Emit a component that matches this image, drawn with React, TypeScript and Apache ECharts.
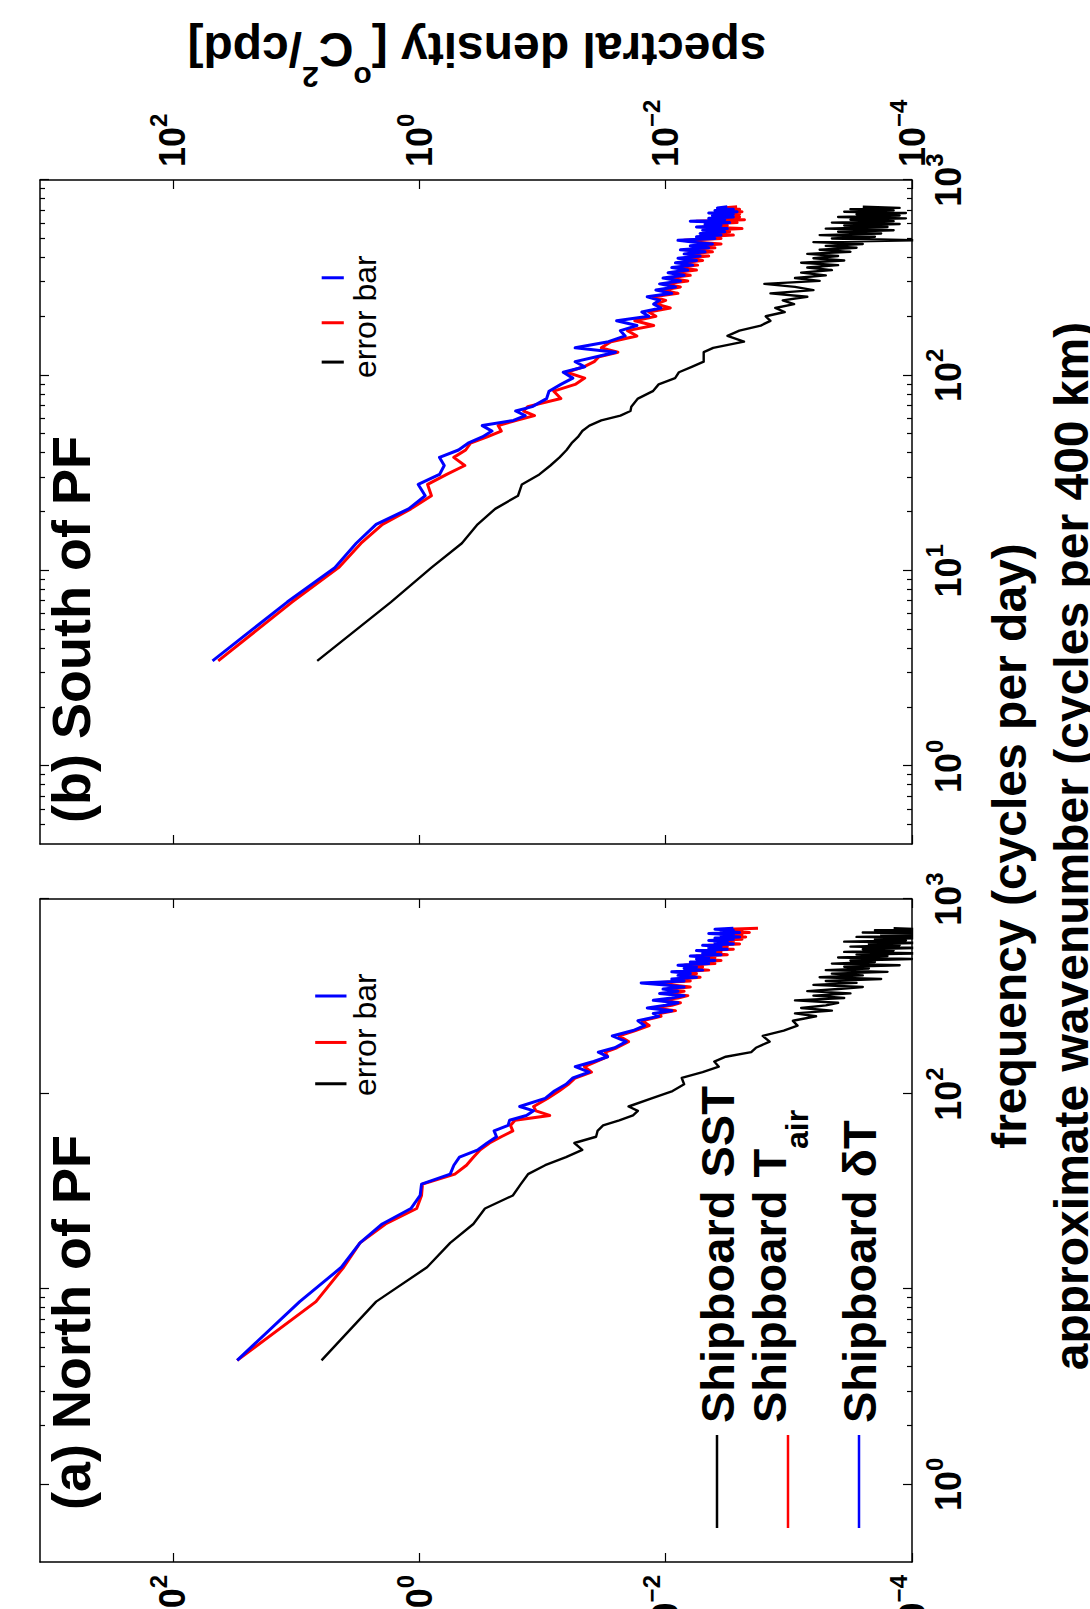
import React, { useEffect, useRef } from 'react';
import * as echarts from 'echarts';

// Landscape canvas (the figure is rotated 90 degrees on the page)
const W = 1609;
const H = 1090;
const FONT = "'Liberation Sans', Arial, Helvetica, sans-serif";

// ---- axis ranges / ticks ----
const X_MIN = 0.4;
const X_MAX = 1000;
const Y_MIN = 1e-4;
const Y_MAX = 1200;
const X_MAJOR = [1, 10, 100, 1000];
const X_MINOR_A = [2, 3, 4, 5, 6, 7, 8, 9];
const X_MINOR_B = [0.5, 0.6, 0.7, 0.8, 0.9, 2, 3, 4, 5, 6, 7, 8, 9, 20, 30, 40, 50, 60, 70, 80, 90, 200, 300, 400, 500, 600, 700, 800, 900];
const X_LABELS_A = [1, 100, 1000];
const X_LABELS_B = [1, 10, 100, 1000];
const Y_TICKS = [1e-4, 1e-2, 1, 100];

// ---- panel (a) North of PF ----
const FREQ_A = [4.32, 8.64, 12.96, 17.28, 21.6, 25.92, 30.24, 34.56, 38.88, 43.2, 47.52, 51.84, 56.16, 60.48, 64.8, 69.12, 73.44, 77.76, 82.08, 86.4,
  95.04, 103.7, 112.3, 121.0, 129.6, 138.2, 146.9, 155.5, 164.2, 172.8,
  185.8, 198.7, 211.7, 224.6, 237.6, 250.6,
  259.2, 267.8, 276.5, 285.1, 293.8, 302.4, 311.0, 319.7, 328.3, 337.0,
  345.6, 354.2, 362.9, 371.5, 380.2, 388.8, 397.4, 406.1, 414.7, 423.4,
  432.0, 440.6, 449.3, 457.9, 466.6, 475.2, 483.8, 492.5, 501.1, 509.8,
  518.4, 527.0, 535.7, 544.3, 553.0, 561.6, 570.2, 578.9, 587.5, 596.2,
  604.8, 613.4, 622.1, 630.7, 639.4, 648.0, 656.6, 665.3, 673.9, 682.6,
  691.2, 699.8, 708.5];
const SST_A = [6.22, 2.24, 0.865, 0.561, 0.364, 0.293, 0.174, 0.150, 0.131, 0.0951, 0.0644, 0.0475, 0.0551, 0.0367, 0.0357, 0.0322, 0.0238, 0.0184, 0.0168, 0.0200,
  0.0130, 0.00879, 0.00708, 0.00740, 0.00501, 0.00370, 0.00403, 0.00325, 0.00202, 0.00185,
  0.00143, 0.00163, 0.00110, 0.000849, 0.000927, 0.000601,
  8.91e-4, 4.47e-4, 7.94e-4, 5.01e-4, 3.98e-4, 8.91e-4, 3.55e-4, 6.31e-4, 3.16e-4, 7.08e-4,
  3.98e-4, 2.51e-4, 6.31e-4, 2.82e-4, 5.01e-4, 1.78e-4, 5.62e-4, 2.51e-4, 4.47e-4, 1.58e-4,
  5.01e-4, 2.24e-4, 3.55e-4, 1.26e-4, 4.47e-4, 2.00e-4, 3.16e-4, 1.00e-4, 3.98e-4, 1.58e-4,
  2.82e-4, 7.94e-5, 3.55e-4, 1.41e-4, 2.51e-4, 7.94e-5, 3.16e-4, 1.26e-4, 2.24e-4, 7.08e-5,
  3.55e-4, 1.12e-4, 2.00e-4, 7.94e-5, 2.82e-4, 8.91e-5, 1.78e-4, 7.08e-5, 2.51e-4, 8.91e-5,
  2.00e-4, 7.94e-5, 1.41e-4];
const TAIR_A = [30.1, 6.90, 4.11, 3.03, 1.88, 1.05, 0.959, 0.942, 0.514, 0.414, 0.364, 0.320, 0.269, 0.216, 0.174, 0.182, 0.167, 0.0873, 0.113, 0.118,
  0.0910, 0.0733, 0.0617, 0.0542, 0.0400, 0.0456, 0.0367, 0.0296, 0.0309, 0.0249,
  0.0200, 0.0238, 0.0176, 0.0136, 0.0155, 0.0109,
  0.0112, 0.00832, 0.0126, 0.00891, 0.00759, 0.0112, 0.00794, 0.00661, 0.0100, 0.00708,
  0.00955, 0.00631, 0.00891, 0.0132, 0.00631, 0.00794, 0.00525, 0.00759, 0.00562, 0.00794,
  0.00447, 0.00661, 0.00501, 0.00708, 0.00398, 0.00562, 0.00355, 0.00525, 0.00398, 0.00562,
  0.00316, 0.00447, 0.00355, 0.00501, 0.00282, 0.00398, 0.00316, 0.00447, 0.00251, 0.00355,
  0.00282, 0.00398, 0.00240, 0.00355, 0.00224, 0.00316, 0.00240, 0.00380, 0.00209, 0.00302,
  0.00240, 0.00316, 0.00178];
const DT_A = [30.1, 9.35, 4.29, 3.03, 2.00, 1.17, 0.984, 0.959, 0.561, 0.524, 0.472, 0.334, 0.281, 0.236, 0.247, 0.190, 0.185, 0.135, 0.118, 0.153,
  0.0951, 0.0800, 0.0644, 0.0566, 0.0418, 0.0542, 0.0384, 0.0296, 0.0352, 0.0259,
  0.0209, 0.0271, 0.0184, 0.0148, 0.0168, 0.0114,
  0.0126, 0.00891, 0.0141, 0.0100, 0.00794, 0.0126, 0.00891, 0.00708, 0.0112, 0.00794,
  0.0105, 0.00708, 0.0100, 0.0158, 0.00708, 0.00891, 0.00562, 0.00794, 0.00631, 0.00891,
  0.00501, 0.00708, 0.00562, 0.00794, 0.00447, 0.00631, 0.00398, 0.00562, 0.00447, 0.00631,
  0.00355, 0.00501, 0.00398, 0.00562, 0.00316, 0.00447, 0.00355, 0.00501, 0.00282, 0.00398,
  0.00316, 0.00447, 0.00282, 0.00398, 0.00251, 0.00355, 0.00282, 0.00447, 0.00251, 0.00355,
  0.00282, 0.00398, 0.00282];
const ERR_F_A = [113, 184, 318];
const ERR_LO_A = 3.9;
const ERR_HI_A = 7.0;

// ---- panel (b) South of PF ----
const FREQ_B = [3.46, 6.92, 10.38, 13.84, 17.3, 20.76, 24.22, 27.68, 31.14, 34.6, 38.06, 41.52, 44.98, 48.44, 51.9, 55.36, 58.82, 62.28, 65.74, 69.2,
  76.12, 83.04, 89.96, 96.88, 103.8, 110.7, 117.6, 124.6, 131.5, 138.4,
  148.8, 159.2, 169.5, 179.9, 190.3, 200.7, 211.1, 221.4, 231.8,
  242.2, 252.6, 263.0, 273.3, 283.7, 294.1, 304.5, 314.9, 325.2, 335.6,
  346.0, 356.4, 366.8, 377.1, 387.5, 397.9, 408.3, 418.7, 429.0, 439.4,
  449.8, 460.2, 470.6, 480.9, 491.3, 501.7, 512.1, 522.5, 532.8, 543.2,
  553.6, 564.0, 574.4, 584.7, 595.1, 605.5, 615.9, 626.3, 636.6, 647.0,
  657.4, 667.8, 678.2, 688.5, 698.9, 709.3, 719.7, 730.1];
const SST_B = [6.74, 1.70, 0.797, 0.451, 0.336, 0.242, 0.158, 0.147, 0.106, 0.0862, 0.0727, 0.0637, 0.0580, 0.0515, 0.0475, 0.0416, 0.0333, 0.0233, 0.0193, 0.0190,
  0.0168, 0.0127, 0.0114, 0.00838, 0.00780, 0.00614, 0.00491, 0.00491, 0.00491, 0.00411,
  0.00231, 0.00315, 0.00252, 0.00169, 0.00141, 0.00154, 0.00108, 0.00129, 0.000906,
  1.12e-3, 7.08e-4, 1.41e-3, 6.31e-4, 8.91e-4, 1.58e-3, 5.62e-4, 8.91e-4, 5.01e-4, 7.94e-4,
  4.47e-4, 7.08e-4, 3.98e-4, 7.94e-4, 3.55e-4, 6.31e-4, 3.98e-4, 7.08e-4, 3.16e-4, 5.62e-4,
  2.82e-4, 5.01e-4, 2.51e-4, 6.31e-4, 8.91e-5, 4.47e-4, 2.00e-4, 5.62e-4, 1.78e-4, 3.98e-4,
  1.41e-4, 5.01e-4, 1.58e-4, 3.55e-4, 1.26e-4, 4.47e-4, 1.41e-4, 3.16e-4, 1.12e-4, 3.98e-4,
  1.26e-4, 2.82e-4, 1.12e-4, 3.55e-4, 1.41e-4, 3.16e-4, 1.26e-4, 2.51e-4];
const TAIR_B = [42.9, 10.80, 4.52, 2.97, 1.99, 1.17, 0.797, 0.856, 0.599, 0.427, 0.525, 0.420, 0.384, 0.281, 0.216, 0.229, 0.165, 0.116, 0.142, 0.132,
  0.0709, 0.0810, 0.0543, 0.0454, 0.0637, 0.0462, 0.0380, 0.0348, 0.0244, 0.0333,
  0.0278, 0.0171, 0.0204, 0.0125, 0.0178, 0.0120, 0.0137, 0.00916, 0.0120,
  0.0100, 0.0126, 0.00794, 0.0105, 0.00759, 0.0100, 0.00661, 0.00955, 0.00631, 0.00871,
  0.00562, 0.00794, 0.00550, 0.00759, 0.00501, 0.00708, 0.00447, 0.00661, 0.00417, 0.00692,
  0.00398, 0.00562, 0.00355, 0.00550, 0.00708, 0.00355, 0.00501, 0.00282, 0.00479, 0.00302,
  0.00447, 0.00240, 0.00501, 0.00316, 0.00437, 0.00263, 0.00562, 0.00229, 0.00398, 0.00251,
  0.00380, 0.00251, 0.00398, 0.00240, 0.00355, 0.00251, 0.00347, 0.00263];
const DT_B = [47.7, 11.81, 4.85, 3.25, 2.24, 1.22, 0.895, 1.02, 0.685, 0.627, 0.685, 0.480, 0.402, 0.308, 0.257, 0.308, 0.172, 0.138, 0.165, 0.121,
  0.0925, 0.0885, 0.0709, 0.0567, 0.0678, 0.0454, 0.0543, 0.0364, 0.0255, 0.0543,
  0.0291, 0.0213, 0.0233, 0.0171, 0.0250, 0.0137, 0.0156, 0.0109, 0.0125,
  0.0112, 0.0141, 0.00891, 0.0120, 0.00832, 0.0112, 0.00759, 0.0105, 0.00708, 0.00955,
  0.00661, 0.00891, 0.00603, 0.00832, 0.00562, 0.00794, 0.00525, 0.00708, 0.00479, 0.00759,
  0.00447, 0.00631, 0.00417, 0.00603, 0.00794, 0.00398, 0.00562, 0.00355, 0.00525, 0.00331,
  0.00501, 0.00316, 0.00562, 0.00355, 0.00479, 0.00302, 0.00631, 0.00331, 0.00447, 0.00282,
  0.00417, 0.00282, 0.00447, 0.00263, 0.00398, 0.00282, 0.00380, 0.00316];
const ERR_F_B = [117, 186, 316];
const ERR_LO_B = 4.1;
const ERR_HI_B = 6.2;

const SERIES_NAMES = ['Shipboard SST', 'Shipboard T', 'Shipboard \u03b4T'];
const COLORS = ['#000000', '#ff0000', '#0000ff'];

// ---- helpers ----
const LG = (v: number) => Math.round(Math.log10(v) * 1e9) / 1e9;

const RICH_TICK = {
  b: { fontSize: 36, fontWeight: 'bold', fontFamily: FONT, color: '#000', lineHeight: 52 },
  s: { fontSize: 24, fontWeight: 'bold', fontFamily: FONT, color: '#000', lineHeight: 24, verticalAlign: 'top' },
};
const expFmt = (v: number) => {
  const e = Math.round(v);
  const t = e < 0 ? '\u2212' + String(-e) : String(e);
  return '{b|10}{s|' + t + '}';
};

const GRIDS = [
  { left: 47, top: 40, width: 663, height: 872 },
  { left: 765, top: 40, width: 664, height: 872 },
];

function xDeco(grid: number, position: string, ticks: number[], len: number, labels: number[] | null, line: boolean) {
  return {
    type: 'value', gridIndex: grid, position, min: LG(X_MIN), max: LG(X_MAX),
    axisLine: { show: line, onZero: false, lineStyle: { color: '#000', width: 1.5 } },
    axisTick: { show: true, inside: true, length: len, customValues: ticks.map(LG), lineStyle: { color: '#000', width: 1.2 } },
    axisLabel: labels
      ? { show: true, customValues: labels.map(LG), formatter: expFmt, margin: 10, rich: RICH_TICK }
      : { show: false },
    splitLine: { show: false },
  };
}
function yDeco(grid: number, position: string, labels: boolean) {
  return {
    type: 'value', gridIndex: grid, position, min: LG(Y_MIN), max: LG(Y_MAX),
    axisLine: { show: true, onZero: false, lineStyle: { color: '#000', width: 1.5 } },
    axisTick: { show: true, inside: true, length: 9, customValues: Y_TICKS.map(LG), lineStyle: { color: '#000', width: 1.2 } },
    axisLabel: labels
      ? { show: true, customValues: Y_TICKS.map(LG), formatter: expFmt, margin: 13, rich: RICH_TICK }
      : { show: false },
    splitLine: { show: false },
  };
}
function xData(grid: number) {
  return { type: 'log', logBase: 10, gridIndex: grid, min: X_MIN, max: X_MAX, show: false, axisLine: { onZero: false }, splitLine: { show: false } };
}
function yData(grid: number) {
  return { type: 'log', logBase: 10, gridIndex: grid, min: Y_MIN, max: Y_MAX, show: false, axisLine: { onZero: false }, splitLine: { show: false } };
}

function lineSeries(xi: number, yi: number, f: number[], v: number[], color: string, width: number, z: number) {
  return {
    type: 'line', xAxisIndex: xi, yAxisIndex: yi,
    data: f.map((x, i) => [x, v[i]]),
    showSymbol: false, symbol: 'none', clip: true, z,
    lineStyle: { color, width, join: 'round' }, itemStyle: { color },
    silent: true,
  };
}
function errSeries(xi: number, yi: number, f: number, lo: number, hi: number, color: string) {
  return {
    type: 'line', xAxisIndex: xi, yAxisIndex: yi,
    data: [[f, lo], [f, hi]],
    showSymbol: false, symbol: 'none', z: 5,
    lineStyle: { color, width: 3 }, itemStyle: { color }, silent: true,
  };
}

function txt(x: number, y: number, text: string, size: number, bold: boolean, align: string = 'left') {
  return {
    type: 'text', x, y, z: 100, silent: true,
    style: {
      text, fontSize: size, fontWeight: bold ? 'bold' : 'normal', fontFamily: FONT, fill: '#000',
      align, textAlign: align, verticalAlign: 'middle', textVerticalAlign: 'middle',
    },
  };
}

function buildOption() {
  const xAxis = [
    xData(0),
    xDeco(0, 'bottom', X_MAJOR, 9, X_LABELS_A, true),
    xDeco(0, 'bottom', X_MINOR_A, 5, null, false),
    xDeco(0, 'top', X_MAJOR, 9, null, true),
    xDeco(0, 'top', X_MINOR_A, 5, null, false),
    xData(1),
    xDeco(1, 'bottom', X_MAJOR, 9, X_LABELS_B, true),
    xDeco(1, 'bottom', X_MINOR_B, 5, null, false),
    xDeco(1, 'top', X_MAJOR, 9, null, true),
    xDeco(1, 'top', X_MINOR_B, 5, null, false),
  ];
  const yAxis = [
    yData(0), yDeco(0, 'left', true), yDeco(0, 'right', false),
    yData(1), yDeco(1, 'left', false), yDeco(1, 'right', true),
  ];
  const series: any[] = [
    lineSeries(0, 0, FREQ_A, SST_A, COLORS[0], 2.4, 2),
    lineSeries(0, 0, FREQ_A, TAIR_A, COLORS[1], 3, 3),
    lineSeries(0, 0, FREQ_A, DT_A, COLORS[2], 3, 4),
    lineSeries(5, 3, FREQ_B, SST_B, COLORS[0], 2.4, 2),
    lineSeries(5, 3, FREQ_B, TAIR_B, COLORS[1], 3, 3),
    lineSeries(5, 3, FREQ_B, DT_B, COLORS[2], 3, 4),
  ];
  ERR_F_A.forEach((f, i) => series.push(errSeries(0, 0, f, ERR_LO_A, ERR_HI_A, COLORS[i])));
  ERR_F_B.forEach((f, i) => series.push(errSeries(5, 3, f, ERR_LO_B, ERR_HI_B, COLORS[i])));

  const graphic: any[] = [
    txt(99, 71, '(a) North of PF', 54, true),
    txt(786, 71, '(b) South of PF', 54, true),
    // legend (panel a)
    { type: 'line', z: 100, silent: true, shape: { x1: 81, y1: 717, x2: 174, y2: 717 }, style: { stroke: COLORS[0], lineWidth: 2.5 } },
    { type: 'line', z: 100, silent: true, shape: { x1: 81, y1: 788, x2: 174, y2: 788 }, style: { stroke: COLORS[1], lineWidth: 2.5 } },
    { type: 'line', z: 100, silent: true, shape: { x1: 81, y1: 859, x2: 174, y2: 859 }, style: { stroke: COLORS[2], lineWidth: 2.5 } },
    txt(186, 717, SERIES_NAMES[0], 47, true),
    txt(186, 769, SERIES_NAMES[1], 47, true),
    txt(460, 797, 'air', 32, true),
    txt(186, 859, SERIES_NAMES[2], 47, true),
    // error bar labels
    txt(513, 365, 'error bar', 32, false),
    txt(1231, 365, 'error bar', 32, false),
    // axis titles
    txt(763, 1009, 'frequency (cycles per day)', 48, true, 'center'),
    txt(763, 1071, 'approximate wavenumber (cycles per 400 km)', 48, true, 'center'),
    {
      type: 'text', x: 1560, y: 477, rotation: Math.PI / 2, z: 100, silent: true,
      style: {
        text: '{m|spectral density [}{s|o}{m|C}{s|2}{m|/cpd]}',
        align: 'center', textAlign: 'center', verticalAlign: 'middle', textVerticalAlign: 'middle',
        fill: '#000',
        rich: {
          m: { fontSize: 48, fontWeight: 'bold', fontFamily: FONT, fill: '#000', color: '#000', lineHeight: 86 },
          s: { fontSize: 30, fontWeight: 'bold', fontFamily: FONT, fill: '#000', color: '#000', lineHeight: 30, verticalAlign: 'top' },
        },
      },
    },
  ];

  return {
    animation: false,
    backgroundColor: '#ffffff',
    grid: GRIDS.map((g) => ({ ...g, containLabel: false, outerBoundsMode: 'none', show: false })),
    xAxis, yAxis, series, graphic,
  };
}

export default function App() {
  const ref = useRef<HTMLDivElement>(null);
  useEffect(() => {
    if (!ref.current) return;
    const chart = echarts.init(ref.current, null, { renderer: 'svg', width: W, height: H });
    chart.setOption(buildOption() as any);
    return () => chart.dispose();
  }, []);
  return (
    <div
      style={{
        position: 'absolute', left: 0, top: 0, width: W, height: H, background: '#fff',
        transformOrigin: '0 0', transform: `translateY(${W}px) rotate(-90deg)`,
      }}
    >
      <div ref={ref} style={{ width: W, height: H }} />
    </div>
  );
}
